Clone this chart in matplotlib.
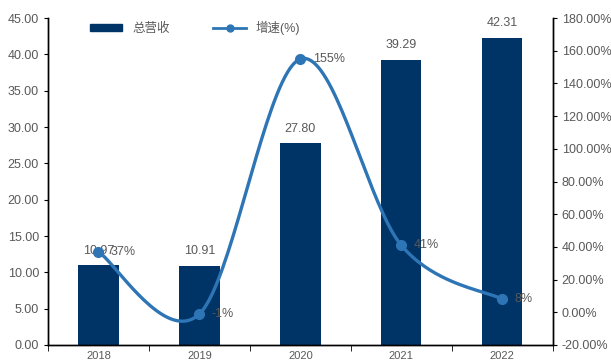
import matplotlib
matplotlib.use("Agg")
import matplotlib.pyplot as plt
import numpy as np
from matplotlib.lines import Line2D
from matplotlib.patches import Patch

plt.rcParams['font.family'] = ['Liberation Sans', 'Noto Sans CJK SC', 'DejaVu Sans']

years = ['2018', '2019', '2020', '2021', '2022']
revenue = [10.97, 10.91, 27.80, 39.29, 42.31]
growth = [37, -1, 155, 41, 8]
growth_labels = ['37%', '-1%', '155%', '41%', '8%']
left_ticks = [0, 5, 10, 15, 20, 25, 30, 35, 40, 45]
right_ticks = [-20, 0, 20, 40, 60, 80, 100, 120, 140, 160, 180]

bar_color = '#003366'
line_color = '#2E75B6'
txt = '#595959'

fig = plt.figure(figsize=(6.11, 3.62), dpi=100)
ax = fig.add_axes([0.0786, 0.047, 0.826, 0.903])
ax2 = ax.twinx()

x = np.arange(len(years))
ax.bar(x, revenue, width=0.4, color=bar_color, zorder=2)
for xi, v in zip(x, revenue):
    ax.annotate(f'{v:.2f}', (xi, v), xytext=(0, 6), textcoords='offset points',
                ha='center', va='bottom', fontsize=9, color=txt)

# Excel-like smoothed line (cubic Bezier with Catmull-Rom control points)
def smooth(xs, ys, n=40):
    xs = np.asarray(xs, float); ys = np.asarray(ys, float)
    px, py = [], []
    for i in range(len(xs) - 1):
        x0, y0 = (xs[i-1], ys[i-1]) if i > 0 else (xs[i], ys[i])
        x1, y1 = xs[i], ys[i]
        x2, y2 = xs[i+1], ys[i+1]
        x3, y3 = (xs[i+2], ys[i+2]) if i + 2 < len(xs) else (xs[i+1], ys[i+1])
        c1x, c1y = x1 + (x2 - x0) / 6, y1 + (y2 - y0) / 6
        c2x, c2y = x2 - (x3 - x1) / 6, y2 - (y3 - y1) / 6
        t = np.linspace(0, 1, n)
        bx = (1-t)**3*x1 + 3*(1-t)**2*t*c1x + 3*(1-t)*t**2*c2x + t**3*x2
        by = (1-t)**3*y1 + 3*(1-t)**2*t*c1y + 3*(1-t)*t**2*c2y + t**3*y2
        px.extend(bx); py.extend(by)
    return np.array(px), np.array(py)

sx, sy = smooth(x, growth)
ax2.plot(sx, sy, color=line_color, lw=2.4, zorder=3)
ax2.plot(x, growth, 'o', color=line_color, ms=7, zorder=4)
for xi, g, lab in zip(x, growth, growth_labels):
    ax2.annotate(lab, (xi, g), xytext=(9, 0), textcoords='offset points',
                 ha='left', va='center', fontsize=9, color=txt, zorder=5)

ax.set_xlim(-0.5, 4.5)
ax.set_ylim(0, 45)
ax2.set_ylim(-20, 180)
ax.set_yticks(left_ticks)
ax.set_yticklabels([f'{v:.2f}' for v in left_ticks])
ax2.set_yticks(right_ticks)
ax2.set_yticklabels([f'{v:.2f}%' for v in right_ticks])
ax.set_xticks(x)
ax.set_xticklabels(years)
ax.set_xticks(np.arange(-0.5, 5.0, 1.0), minor=True)
ax.tick_params(axis='x', which='major', length=0, labelsize=8, colors=txt, pad=4)
ax.tick_params(axis='x', which='minor', length=4, color='black', direction='out')
ax.tick_params(axis='y', labelsize=9, colors=txt, length=3, direction='out')
ax.tick_params(axis='y', color='black')
ax2.tick_params(axis='y', labelsize=9, colors=txt, length=3, direction='out')
ax2.tick_params(axis='y', color='black')

for a in (ax, ax2):
    a.spines['top'].set_visible(False)
    for s in ('left', 'right', 'bottom'):
        a.spines[s].set_color('black')
        a.spines[s].set_linewidth(1.0)
ax.set_zorder(1)
ax2.set_zorder(2)
ax.patch.set_visible(False)

handles = [Patch(color=bar_color, label='总营收'),
           Line2D([0], [0], color=line_color, lw=2, marker='o', ms=5, label='增速(%)')]
leg = ax.legend(handles=handles, loc='upper left', bbox_to_anchor=(0.06, 1.025), ncol=2,
                frameon=False, fontsize=9, handlelength=2.6, handleheight=0.5,
                columnspacing=3.5, labelcolor=txt)

fig.savefig('out.png', dpi=100)
